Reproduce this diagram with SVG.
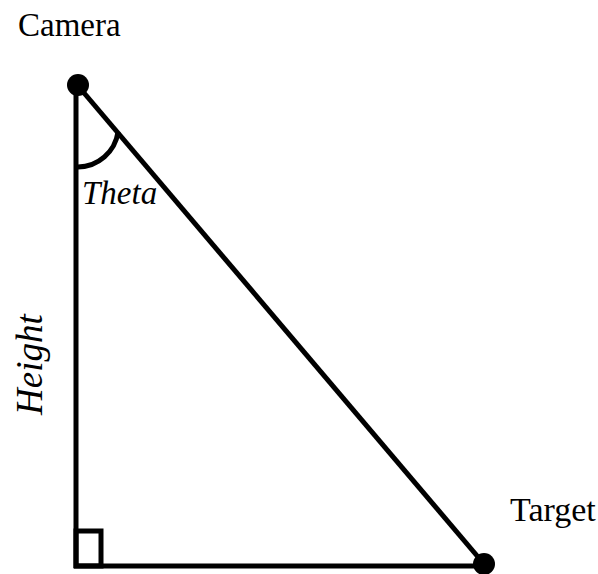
<svg xmlns="http://www.w3.org/2000/svg" width="598" height="574" viewBox="0 0 598 574">
<style>
.ln{stroke:#000;stroke-width:5;fill:none;stroke-linecap:butt}
.t{font-family:"Liberation Serif",serif;font-size:33px;fill:#000}
.i{font-style:italic}
</style>
<rect width="598" height="574" fill="#fff"/>
<g id="connectors">
<line class="ln" x1="76" y1="88" x2="76" y2="568"/>
<line class="ln" x1="74" y1="566" x2="484" y2="566"/>
<line class="ln" x1="79" y1="87" x2="484" y2="564"/>
<path class="ln" d="M 78 167 A 41 41 0 0 0 118 132"/>
<rect class="ln" x="76" y="531" width="25" height="35" stroke-width="4"/>
</g>
<g id="camera">
<circle cx="78" cy="85" r="11" fill="#000"/>
<text class="t" x="18" y="36">Camera</text>
</g>
<g id="target">
<circle cx="484" cy="564" r="11" fill="#000"/>
<text class="t" x="510" y="521" style="font-size:34px">Target</text>
</g>
<g id="theta">
<text class="t i" x="82" y="204">Theta</text>
</g>
<g id="height">
<text class="t i" transform="translate(42,415) rotate(-90)" style="font-size:37px">Height</text>
</g>
</svg>
